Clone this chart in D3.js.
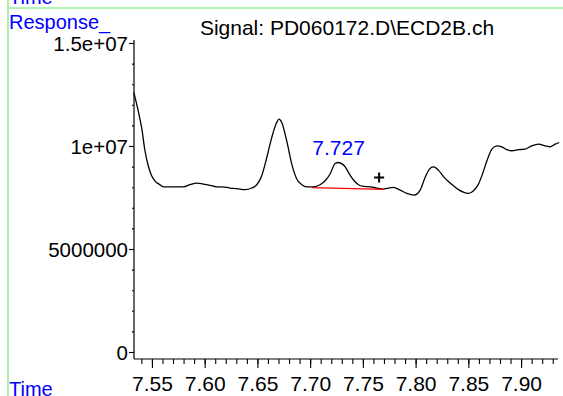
<!DOCTYPE html>
<html>
<head>
<meta charset="utf-8">
<script src="https://cdn.jsdelivr.net/npm/d3@7"></script>
<style>
  html, body { margin: 0; padding: 0; background: #fff; }
  svg { display: block; font-family: "Liberation Sans", Arial, sans-serif; }
</style>
</head>
<body>
<svg id="chart" width="563" height="396"></svg>
<script>
// ---- data ----
const times = [7.5329, 7.5370, 7.5402, 7.5434, 7.5465, 7.5497, 7.5528, 7.5576, 7.5607, 7.5702,
  7.5797, 7.5861, 7.5924, 7.5987, 7.6050, 7.6114, 7.6161, 7.6240, 7.6304, 7.6383,
  7.6446, 7.6494, 7.6541, 7.6589, 7.6636, 7.6683, 7.6705, 7.6731, 7.6778, 7.6826,
  7.6873, 7.6921, 7.6968, 7.7031, 7.7094, 7.7142, 7.7189, 7.7237, 7.7268, 7.7306,
  7.7332, 7.7363, 7.7411, 7.7458, 7.7505, 7.7569, 7.7632, 7.7695, 7.7742, 7.7790,
  7.7853, 7.7917, 7.7986, 7.8043, 7.8090, 7.8131, 7.8169, 7.8216, 7.8264, 7.8335,
  7.8406, 7.8501, 7.8549, 7.8596, 7.8634, 7.8676, 7.8723, 7.8771, 7.8818, 7.8865,
  7.8913, 7.8976, 7.9039, 7.9102, 7.9165, 7.9229, 7.9276, 7.9323, 7.9362];
const responses = [12.59e6, 11.70e6, 10.90e6, 9.77e6, 9.04e6, 8.56e6, 8.31e6, 8.12e6, 8.02e6, 8.02e6,
  8.02e6, 8.12e6, 8.20e6, 8.15e6, 8.09e6, 8.02e6, 8.02e6, 7.96e6, 7.93e6, 7.88e6,
  7.96e6, 8.12e6, 8.56e6, 9.44e6, 10.41e6, 11.14e6, 11.30e6, 11.14e6, 10.25e6, 9.12e6,
  8.40e6, 8.12e6, 8.02e6, 8.02e6, 8.12e6, 8.31e6, 8.64e6, 9.15e6, 9.20e6, 9.12e6,
  8.99e6, 8.72e6, 8.35e6, 8.12e6, 8.04e6, 8.02e6, 7.96e6, 7.91e6, 7.96e6, 7.99e6,
  7.86e6, 7.70e6, 7.62e6, 7.86e6, 8.47e6, 8.88e6, 8.99e6, 8.83e6, 8.51e6, 8.17e6,
  7.88e6, 7.70e6, 7.83e6, 8.15e6, 8.64e6, 9.28e6, 9.85e6, 10.01e6, 9.96e6, 9.82e6,
  9.77e6, 9.82e6, 9.85e6, 10.01e6, 10.09e6, 10.01e6, 9.96e6, 10.09e6, 10.17e6];
const xMajorTicks = [7.55, 7.60, 7.65, 7.70, 7.75, 7.80, 7.85, 7.90];
const xTickLabels = ["7.55", "7.60", "7.65", "7.70", "7.75", "7.80", "7.85", "7.90"];
const yMajorTicks = [0, 5000000, 10000000, 15000000];
const yTickLabels = ["0", "5000000", "1e+07", "1.5e+07"];
const peakTime = [7.727];
const peakValue = [9.20e6];
const peakLabel = ["7.727"];
const baselineTimes = [7.7017, 7.7697];
const baselineValues = [7.976e6, 7.89e6];
const markerTime = [7.7654];
const markerValue = [8.47e6];
const titleText = "Signal: PD060172.D\\ECD2B.ch";
const yTitle = "Response_";
const xTitle = "Time";

// ---- layout ----
const svg = d3.select("#chart");
const left = 134, right = 558, axisTop = 40, axisBottom = 359;
const x = d3.scaleLinear().domain([7.533, 7.935]).range([left, right]);
const y = d3.scaleLinear().domain([0, 1.5e7]).range([352, 43]);
const blue = "#0000ff";
const green = "#99ee99";

// green frame
svg.append("line").attr("x1", 8).attr("x2", 563).attr("y1", 8).attr("y2", 8)
  .attr("stroke", green).attr("stroke-width", 1.6);
svg.append("line").attr("x1", 8).attr("x2", 8).attr("y1", 0).attr("y2", 396)
  .attr("stroke", green).attr("stroke-width", 1.6);

// clipped top "Time"
svg.append("text").attr("x", 9).attr("y", 4).attr("fill", blue)
  .attr("font-size", 20).text(xTitle);
svg.append("text").attr("x", 9).attr("y", 29).attr("fill", blue)
  .attr("font-size", 20).text(yTitle);
svg.append("text").attr("x", 9).attr("y", 396).attr("fill", blue)
  .attr("font-size", 20).text(xTitle);

// title
svg.append("text").attr("x", 347).attr("y", 35).attr("text-anchor", "middle")
  .attr("font-size", 21).attr("fill", "#000").text(titleText);

// Y axis
const yMinor = d3.range(0, 15000001, 1000000);
const yAxisMinor = d3.axisLeft(y).tickValues(yMinor).tickSize(2).tickFormat("");
const gyMinor = svg.append("g").attr("transform", `translate(${left},0)`).call(yAxisMinor);
gyMinor.select(".domain").remove();
const yAxis = d3.axisLeft(y).tickValues(yMajorTicks).tickSize(5).tickPadding(1)
  .tickFormat((d, i) => yTickLabels[i]);
const gy = svg.append("g").attr("transform", `translate(${left},0)`).call(yAxis);
gy.select(".domain").remove();
gy.selectAll("text").attr("font-size", 20.5).attr("font-family", "Liberation Sans, Arial, sans-serif")
  .attr("fill", "#000").attr("dy", "0.36em");
svg.append("line").attr("x1", left).attr("x2", left).attr("y1", axisTop).attr("y2", axisBottom)
  .attr("stroke", "#000").attr("stroke-width", 1.2);

// X axis
const xMinor = d3.range(7.54, 7.935, 0.01);
const xAxisMinor = d3.axisBottom(x).tickValues(xMinor).tickSize(5).tickFormat("");
const gxMinor = svg.append("g").attr("transform", `translate(0,${axisBottom})`).call(xAxisMinor);
gxMinor.select(".domain").remove();
const xAxis = d3.axisBottom(x).tickValues(xMajorTicks).tickSize(9).tickPadding(8)
  .tickFormat((d, i) => xTickLabels[i]);
const gx = svg.append("g").attr("transform", `translate(0,${axisBottom})`).call(xAxis);
gx.select(".domain").remove();
gx.selectAll("text").attr("font-size", 21).attr("font-family", "Liberation Sans, Arial, sans-serif")
  .attr("fill", "#000");
svg.append("line").attr("x1", left).attr("x2", right).attr("y1", axisBottom).attr("y2", axisBottom)
  .attr("stroke", "#000").attr("stroke-width", 1.2);
svg.selectAll(".tick line").attr("stroke", "#000").attr("stroke-width", 1.1);

// signal trace
const pts = times.map((t, i) => [t, responses[i]]);
const line = d3.line().x(d => x(d[0])).y(d => y(d[1])).curve(d3.curveMonotoneX);
svg.append("path").datum(pts).attr("d", line).attr("fill", "none")
  .attr("stroke", "#000").attr("stroke-width", 1.3);

// integration baseline
const bl = baselineTimes.map((t, i) => [t, baselineValues[i]]);
svg.append("path").datum(bl).attr("d", d3.line().x(d => x(d[0])).y(d => y(d[1])))
  .attr("stroke", "#ff0000").attr("stroke-width", 1.3).attr("fill", "none");

// peak label
svg.selectAll(".peaklab").data(peakTime).enter().append("text")
  .attr("x", d => x(d)).attr("y", (d, i) => y(peakValue[i]) - 7)
  .attr("text-anchor", "middle").attr("fill", blue).attr("font-size", 21)
  .text((d, i) => peakLabel[i]);

// + marker
markerTime.forEach((t, i) => {
  const cx = x(t), cy = y(markerValue[i]);
  svg.append("path").attr("d", `M${cx - 5},${cy}H${cx + 5}M${cx},${cy - 5}V${cy + 5}`)
    .attr("stroke", "#000").attr("stroke-width", 2);
});
</script>
</body>
</html>
